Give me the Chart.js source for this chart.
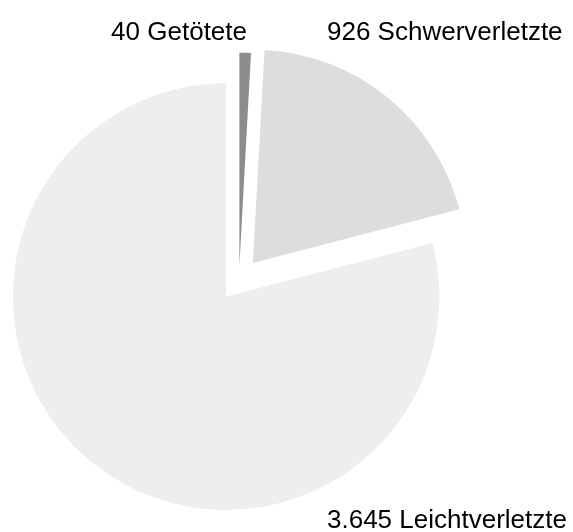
<!DOCTYPE html>
<html>
<head>
<meta charset="utf-8">
<script src="https://cdn.jsdelivr.net/npm/chart.js@4.4.1/dist/chart.umd.min.js"></script>
<style>
  html, body { margin: 0; padding: 0; background: #ffffff; }
  #wrap { position: relative; width: 573px; height: 532px; }
</style>
</head>
<body>
<div id="wrap"><canvas id="c"></canvas></div>
<script>
// ---- data ----
const categories = ["Getötete", "Schwerverletzte", "Leichtverletzte"];
const values = [40, 926, 3645];
const colors = ["#8c8c8c", "#dddddd", "#eeeeee"];
const explode = [14, 22, 21];

function fmtDE(n) {
  return String(n).replace(/\B(?=(\d{3})+(?!\d))/g, ".");
}
const labelTexts = categories.map((c, i) => fmtDE(values[i]) + " " + c);

// Exploded slices: translate each arc along its mid-angle by its offset, keep radius unchanged
const baseDraw = Chart.ArcElement.prototype.draw;
Chart.ArcElement.prototype.draw = function (ctx) {
  const off = this.options.offset || 0;
  const half = (this.startAngle + this.endAngle) / 2;
  const proxy = Object.create(this);
  proxy.options = Object.assign({}, this.options, { offset: 0 });
  ctx.save();
  ctx.translate(Math.cos(half) * off, Math.sin(half) * off);
  baseDraw.call(proxy, ctx);
  ctx.restore();
};

// Outside labels
const labelPlugin = {
  id: "outsideLabels",
  afterDraw(chart) {
    const ctx = chart.ctx;
    ctx.save();
    ctx.font = "26px 'Liberation Sans', Arial, sans-serif";
    ctx.fillStyle = "#000000";
    ctx.textBaseline = "alphabetic";
    const spots = [
      { x: 247, y: 40, align: "right" },
      { x: 327, y: 40, align: "left" },
      { x: 327, y: 528, align: "left" }
    ];
    labelTexts.forEach((t, i) => {
      ctx.textAlign = spots[i].align;
      ctx.fillText(t, spots[i].x, spots[i].y);
    });
    ctx.restore();
  }
};

new Chart(document.getElementById("c"), {
  type: "pie",
  data: {
    labels: categories,
    datasets: [{
      data: values,
      backgroundColor: colors,
      borderWidth: 0,
      offset: explode,
      hoverOffset: 0
    }]
  },
  options: {
    responsive: true,
    maintainAspectRatio: false,
    animation: false,
    events: [],
    radius: 213.3,
    layout: { padding: { left: 0, right: 95, top: 40, bottom: 12 } },
    plugins: {
      legend: { display: false },
      tooltip: { enabled: false },
      title: { display: false }
    }
  },
  plugins: [labelPlugin]
});
</script>
</body>
</html>
